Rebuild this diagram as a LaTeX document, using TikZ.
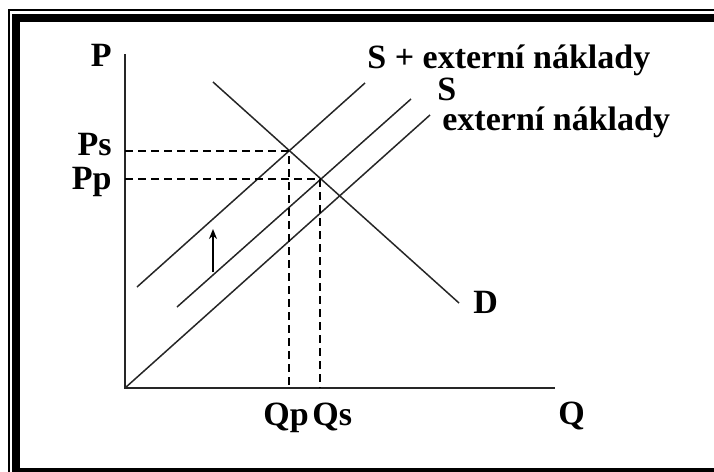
\documentclass[tikz,border=0pt]{standalone}
\usepackage{fontspec}
\setmainfont{Liberation Serif}
\usetikzlibrary{arrows.meta,positioning}

\tikzset{
  curve/.style={line width=0.75pt, black!85},
  guide/.style={line width=0.75pt, dash pattern=on 4pt off 2.5pt},
  lbl/.style={font=\fontsize{17}{20}\selectfont\bfseries, inner sep=0pt},
}

\begin{document}
\begin{tikzpicture}[x=0.5pt,y=-0.5pt]
    \useasboundingbox (0,0) rectangle (714,472);
    % frame
    \draw[line width=1pt] (9,10) rectangle (740,490);
    \draw[line width=4pt] (16,18) rectangle (730,472);
    % axes
    \coordinate (O) at (125,388);
    \coordinate (ytop) at (125,54);
    \coordinate (xend) at (555,388);
    \draw[line width=1.25pt, black!85] (ytop) -- (O) -- (xend);
    \node[lbl, anchor=base east] (P) at (112,66) {P};
    \node[lbl, anchor=base west] (Q) at (558,424) {Q};
    % demand and supply lines
    \coordinate (Dtop) at (213,82);
    \coordinate (Dbot) at (459,303);
    \coordinate (Sxlo) at (137,287);
    \coordinate (Sxhi) at (365,83);
    \coordinate (Slo) at (177,307);
    \coordinate (Shi) at (411,99);
    \coordinate (Ehi) at (430,115);
    \draw[curve] (Dtop) -- (Dbot);
    \draw[curve] (Sxlo) -- (Sxhi);
    \draw[curve] (Slo) -- (Shi);
    \draw[curve] (O) -- (Ehi);
    \node[lbl, anchor=base west] (D) at (473,313) {D};
    \node[lbl, anchor=base west] (lSx) at (367,68) {S + externí náklady};
    \node[lbl, anchor=base west] (lS) at (437,100) {S};
    \node[lbl, anchor=base west] (lE) at (442,130) {externí náklady};
    % equilibria
    \coordinate (Es) at (289,151);
    \coordinate (Ep) at (320,179);
    \draw[guide] (Es -| O) -- (Es) -- (Es |- O);
    \draw[guide] (Ep -| O) -- (Ep) -- (Ep |- O);
    \node[lbl, anchor=base east] (Ps) at (112,155) {Ps};
    \node[lbl, anchor=base east] (Pp) at (112,189) {Pp};
    \node[lbl, anchor=base west] (Qp) at (263,425) {Qp};
    \node[lbl, anchor=base west] (Qs) at (312,425) {Qs};
    % shift of supply
    \coordinate (shift0) at (213,272);
    \coordinate (shift1) at (213,229);
    \draw[-{Stealth[length=5pt,width=4pt]}, line width=1pt] (shift0) -- (shift1);
\end{tikzpicture}
\end{document}
